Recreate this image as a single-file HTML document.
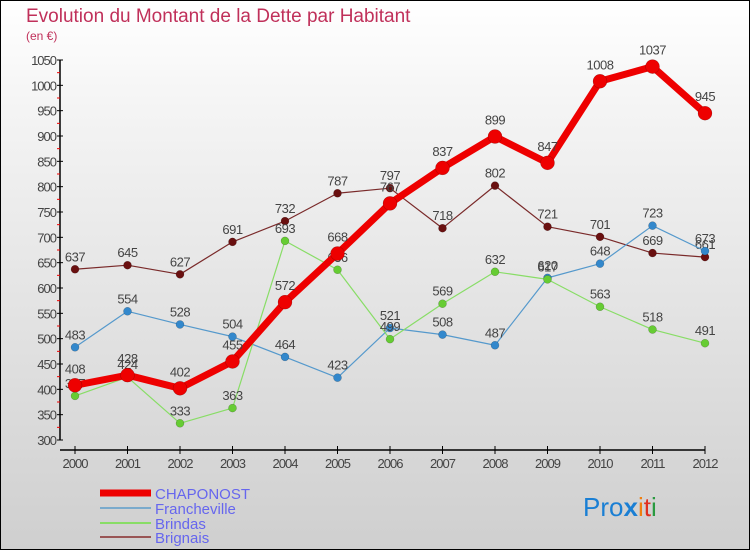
<!DOCTYPE html>
<html><head><meta charset="utf-8"><style>
body{margin:0;}
#c{width:750px;height:550px;position:relative;box-sizing:border-box;border:1px solid #000;background:linear-gradient(#fff,#f4f4f4 20%,#cfcfcf);font-family:"Liberation Sans",sans-serif;overflow:hidden}
</style></head><body>
<div id="c">
<svg id="s" width="750" height="550" style="position:absolute;left:-1px;top:-1px">
<text x="26" y="22" font-size="19" fill="#c0305a">Evolution du Montant de la Dette par Habitant</text>
<text x="26" y="40" font-size="12" fill="#c0305a">(en €)</text>
<g id="axes"></g><g id="series"></g>
<g>
<line x1="100" y1="493" x2="151" y2="493" stroke="#e00" stroke-width="7"/>
<text x="155" y="499" font-size="15" fill="#6666ee">CHAPONOST</text>
<line x1="100" y1="508" x2="151" y2="508" stroke="#7aaacc" stroke-width="2"/>
<text x="155" y="514" font-size="15" fill="#6666ee">Francheville</text>
<line x1="100" y1="523" x2="151" y2="523" stroke="#88dd66" stroke-width="2"/>
<text x="155" y="529" font-size="15" fill="#6666ee">Brindas</text>
<line x1="100" y1="537" x2="151" y2="537" stroke="#995555" stroke-width="2"/>
<text x="155" y="543" font-size="15" fill="#6666ee">Brignais</text>
</g>
<text x="583" y="516" font-size="26"><tspan fill="#1a7fd4">Pro</tspan><tspan fill="#1a7fd4" font-weight="bold">x</tspan><tspan fill="#f07f10">i</tspan><tspan fill="#e03020">t</tspan><tspan fill="#2a9a40">i</tspan></text>
</svg>
</div>
<script>
const years=[2000,2001,2002,2003,2004,2005,2006,2007,2008,2009,2010,2011,2012];
const yTicks=[300,350,400,450,500,550,600,650,700,750,800,850,900,950,1000,1050];
const chaponost=[408,428,402,455,572,668,767,837,899,847,1008,1037,945];
const francheville=[483,554,528,504,464,423,521,508,487,620,648,723,673];
const brindas=[387,424,333,363,693,636,499,569,632,617,563,518,491];
const brignais=[637,645,627,691,732,787,797,718,802,721,701,669,661];
const NS="http://www.w3.org/2000/svg";
function X(i){return 75+i*52.5;}
function Y(v){return 440-(v-300)*380/750;}
function mk(p,t,a){const e=document.createElementNS(NS,t);for(const k in a)e.setAttribute(k,a[k]);p.appendChild(e);return e;}
const ax=document.getElementById('axes');
let l=mk(ax,'line',{x1:60,y1:Y(1050),x2:60,y2:440,stroke:'#000','stroke-width':1.5});


l=mk(ax,'line',{x1:60,y1:450,x2:705,y2:450,stroke:'#000','stroke-width':1.5});


yTicks.forEach((v,i)=>{
  mk(ax,'line',{x1:57,y1:Y(v),x2:63,y2:Y(v),stroke:'#000'});
  if(i<yTicks.length-1)mk(ax,'line',{x1:57,y1:Y(v+25),x2:60,y2:Y(v+25),stroke:'#e00'});
  const t=mk(ax,'text',{x:56,y:Y(v)+5,'font-size':13,fill:'#444','text-anchor':'end','letter-spacing':'-1'});
  t.textContent=v;
  
  
});
years.forEach((y,i)=>{
  mk(ax,'line',{x1:X(i),y1:446,x2:X(i),y2:454,stroke:'#000'});
  const t=mk(ax,'text',{x:X(i),y:468,'font-size':13,fill:'#444','text-anchor':'middle','letter-spacing':'-1'});
  t.textContent=y;
  
  
});
const sg=document.getElementById('series');
function draw(data,name,color,w,r,dot,labelOff){
  const g=mk(sg,'g',{});
  
  
  const p=mk(g,'polyline',{points:data.map((v,i)=>X(i)+','+Y(v)).join(' '),fill:'none',stroke:color,'stroke-width':w,'stroke-linejoin':'round'});
  
  
  data.forEach((v,i)=>{
    const c=mk(g,'circle',{cx:X(i),cy:Y(v),r:r,fill:dot,stroke:'rgba(0,0,0,0.3)','stroke-width':0.5});
    
    
    const t=mk(g,'text',{x:X(i),y:Y(v)-labelOff,'font-size':13,fill:'#444','text-anchor':'middle','letter-spacing':'-0.5'});
    t.textContent=v;
    
    
  });
}
draw(brignais,'brignais','#7a2a2a',1.2,4,'#6a1010',8);
draw(francheville,'francheville','#5599cc',1.2,4,'#3388cc',8);
draw(brindas,'brindas','#88dd66',1.2,4,'#66cc33',8);
draw(chaponost,'chaponost','#ee0000',7,7,'#ee0000',12);
</script>
</body></html>
